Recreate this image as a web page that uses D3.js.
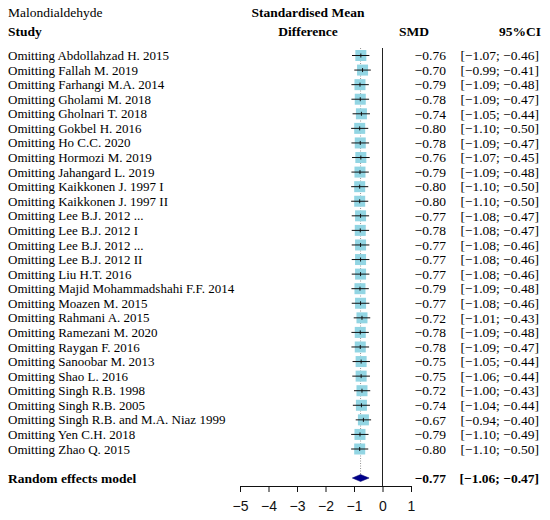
<!DOCTYPE html>
<html>
<head>
<meta charset="utf-8">
<script src="https://d3js.org/d3.v7.min.js"></script>
<style>
	body { margin: 0; background: white; }
	svg { display: block; font-family: "Palatino Linotype", "Book Antiqua", Palatino, "Liberation Serif", serif; }
</style>
</head>
<body>
<script>
	// study data (leave-one-out)
	var studies = ["Omitting Abdollahzad H. 2015", "Omitting Fallah M. 2019", "Omitting Farhangi M.A. 2014",
		"Omitting Gholami M. 2018", "Omitting Gholnari T. 2018", "Omitting Gokbel H. 2016", "Omitting Ho C.C. 2020",
		"Omitting Hormozi M. 2019", "Omitting Jahangard L. 2019", "Omitting Kaikkonen J. 1997 I",
		"Omitting Kaikkonen J. 1997 II", "Omitting Lee B.J. 2012 ...", "Omitting Lee B.J. 2012 I",
		"Omitting Lee B.J. 2012 ...", "Omitting Lee B.J. 2012 II", "Omitting Liu H.T. 2016",
		"Omitting Majid Mohammadshahi F.F. 2014", "Omitting Moazen M. 2015", "Omitting Rahmani A. 2015",
		"Omitting Ramezani M. 2020", "Omitting Raygan F. 2016", "Omitting Sanoobar M. 2013",
		"Omitting Shao L. 2016", "Omitting Singh R.B. 1998", "Omitting Singh R.B. 2005",
		"Omitting Singh R.B. and M.A. Niaz 1999", "Omitting Yen C.H. 2018", "Omitting Zhao Q. 2015"];
	var smd = [-0.76, -0.70, -0.79, -0.78, -0.74, -0.80, -0.78, -0.76, -0.79, -0.80, -0.80, -0.77, -0.78, -0.77,
		-0.77, -0.77, -0.79, -0.77, -0.72, -0.78, -0.78, -0.75, -0.75, -0.72, -0.74, -0.67, -0.79, -0.80];
	var lower = [-1.07, -0.99, -1.09, -1.09, -1.05, -1.10, -1.09, -1.07, -1.09, -1.10, -1.10, -1.08, -1.08, -1.08,
		-1.08, -1.08, -1.09, -1.08, -1.01, -1.09, -1.09, -1.05, -1.06, -1.00, -1.04, -0.94, -1.10, -1.10];
	var upper = [-0.46, -0.41, -0.48, -0.47, -0.44, -0.50, -0.47, -0.45, -0.48, -0.50, -0.50, -0.47, -0.47, -0.46,
		-0.46, -0.46, -0.48, -0.46, -0.43, -0.48, -0.47, -0.44, -0.44, -0.43, -0.44, -0.40, -0.49, -0.50];
	var pooled = [-0.77, -1.06, -0.47]; // est, lo, hi
	var xTicks = [-5, -4, -3, -2, -1, 0, 1];

	var w = 550, h = 520;
	var fs = 13.5, fsRow = 13;
	var fmt = function(v) { return d3.format(".2f")(v).replace("-", "\u2212"); };

	var svg = d3.select("body").append("svg")
		.attr("width", w)
		.attr("height", h);

	var x = d3.scaleLinear().domain([-5, 1]).range([240, 411]);
	var y = d3.scaleLinear().domain([0, studies.length - 1]).range([55.5, 449]);
	var yPool = 478;
	var yAxis = 486;

	// headers
	svg.append("text").attr("x", 8).attr("y", 17).attr("font-size", fs).text("Malondialdehyde");
	svg.append("text").attr("x", 8).attr("y", 36).attr("font-size", fs).attr("font-weight", "bold").text("Study");
	svg.append("text").attr("x", 308).attr("y", 17).attr("font-size", fs).attr("font-weight", "bold")
		.attr("text-anchor", "middle").text("Standardised Mean");
	svg.append("text").attr("x", 308).attr("y", 36).attr("font-size", fs).attr("font-weight", "bold")
		.attr("text-anchor", "middle").text("Difference");
	svg.append("text").attr("x", 429).attr("y", 36).attr("font-size", fs).attr("font-weight", "bold")
		.attr("text-anchor", "end").text("SMD");
	svg.append("text").attr("x", 541).attr("y", 36).attr("font-size", fs).attr("font-weight", "bold")
		.attr("text-anchor", "end").text("95%CI");

	// reference lines
	svg.append("line")
		.attr("x1", x(0)).attr("x2", x(0))
		.attr("y1", 48).attr("y2", yAxis)
		.attr("stroke", "#222").attr("stroke-width", 1);
	svg.append("line")
		.attr("x1", x(pooled[0])).attr("x2", x(pooled[0]))
		.attr("y1", 48).attr("y2", yPool - 3)
		.attr("stroke", "#777").attr("stroke-width", 0.8)
		.attr("stroke-dasharray", "1,1.5");

	var rows = svg.selectAll("g.row")
		.data(studies)
		.enter().append("g")
		.attr("class", "row");

	rows.append("text")
		.attr("x", 8).attr("y", function(d, i) { return y(i); })
		.attr("dy", "0.35em").attr("font-size", fsRow)
		.text(function(d) { return d; });

	rows.append("rect")
		.attr("x", function(d, i) { return x(smd[i]) - 5.5; })
		.attr("y", function(d, i) { return y(i) - 5.5; })
		.attr("width", 11).attr("height", 11)
		.attr("fill", "#92d5e3");

	rows.append("line")
		.attr("x1", function(d, i) { return x(lower[i]); })
		.attr("x2", function(d, i) { return x(upper[i]); })
		.attr("y1", function(d, i) { return y(i); })
		.attr("y2", function(d, i) { return y(i); })
		.attr("stroke", "#111").attr("stroke-width", 1);

	rows.append("line")
		.attr("x1", function(d, i) { return x(smd[i]); })
		.attr("x2", function(d, i) { return x(smd[i]); })
		.attr("y1", function(d, i) { return y(i) - 2; })
		.attr("y2", function(d, i) { return y(i) + 2; })
		.attr("stroke", "#111").attr("stroke-width", 1);

	rows.append("text")
		.attr("x", 446).attr("y", function(d, i) { return y(i); })
		.attr("dy", "0.35em").attr("font-size", fs).attr("text-anchor", "end")
		.text(function(d, i) { return fmt(smd[i]); });

	rows.append("text")
		.attr("x", 539).attr("y", function(d, i) { return y(i); })
		.attr("dy", "0.35em").attr("font-size", fs).attr("text-anchor", "end")
		.text(function(d, i) { return "[" + fmt(lower[i]) + "; " + fmt(upper[i]) + "]"; });

	// pooled
	svg.append("text").attr("x", 8).attr("y", yPool).attr("dy", "0.35em")
		.attr("font-size", fs).attr("font-weight", "bold").text("Random effects model");
	svg.append("path")
		.attr("d", "M" + x(pooled[1]) + "," + yPool + "L" + x(pooled[0]) + "," + (yPool - 3.5) +
			"L" + x(pooled[2]) + "," + yPool + "L" + x(pooled[0]) + "," + (yPool + 3.5) + "Z")
		.attr("fill", "#00008b").attr("stroke", "#00006b").attr("stroke-width", 0.5);
	svg.append("text").attr("x", 446).attr("y", yPool).attr("dy", "0.35em").attr("font-size", fs)
		.attr("font-weight", "bold").attr("text-anchor", "end").text(fmt(pooled[0]));
	svg.append("text").attr("x", 539).attr("y", yPool).attr("dy", "0.35em").attr("font-size", fs)
		.attr("font-weight", "bold").attr("text-anchor", "end")
		.text("[" + fmt(pooled[1]) + "; " + fmt(pooled[2]) + "]");

	// axis
	var axis = d3.axisBottom(x).tickValues(xTicks).tickSize(6).tickSizeOuter(0).tickPadding(9)
		.tickFormat(function(d) { return String(d).replace("-", "\u2212"); });
	var ga = svg.append("g").attr("transform", "translate(0," + yAxis + ")").call(axis);
	ga.select(".domain").attr("stroke", "#111");
	ga.selectAll(".tick line").attr("stroke", "#111");
	ga.selectAll(".tick text").attr("font-size", 14).attr("font-family", null).attr("fill", "#111");
</script>
</body>
</html>
